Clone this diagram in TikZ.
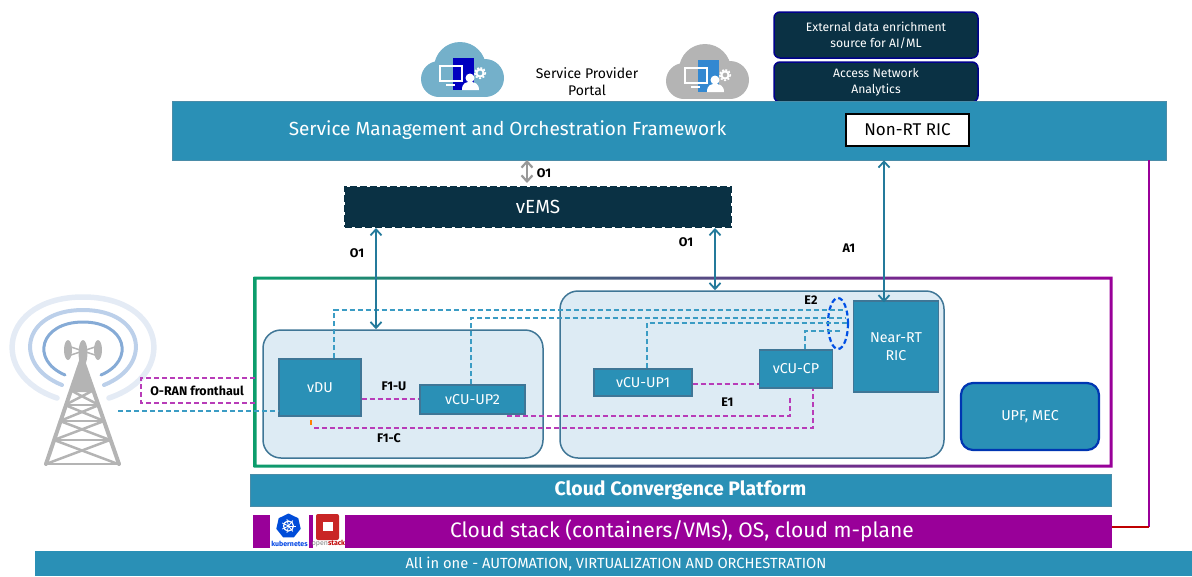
\documentclass[tikz,border=0pt]{standalone}
\usepackage{fontspec}
\setmainfont{Fira Sans}
\usetikzlibrary{calc}
\usetikzlibrary{positioning}
\usetikzlibrary{arrows.meta}
\usetikzlibrary{shapes.geometric}
\definecolor{bandblue}{HTML}{2A90B6}
\definecolor{edgeblue}{HTML}{4A8CA8}
\definecolor{darknavy}{HTML}{0A3144}
\definecolor{clusterfill}{HTML}{DDEBF4}
\definecolor{clusteredge}{HTML}{3F7696}
\definecolor{stackpurple}{HTML}{990099}
\definecolor{dashpurple}{HTML}{B83CB8}
\definecolor{dashblue}{HTML}{3B9CC4}
\definecolor{ringgreen}{HTML}{0C9D6C}
\definecolor{towergray}{HTML}{B4B4B4}
\definecolor{arcinner}{HTML}{86ABD6}
\definecolor{arcmiddle}{HTML}{BCD0EA}
\definecolor{arcouter}{HTML}{E4EBF5}
\tikzstyle{band} = [draw=edgeblue, fill=bandblue, text=white, align=center, inner sep=0]
\tikzstyle{darkbox} = [draw=blue!55!black, line width=1.5pt, fill=darknavy, rounded corners=6pt, text=white, align=center, font=\fontsize{12.2}{16}\selectfont, minimum width=204pt, inner sep=0]
\tikzstyle{vnfbox} = [draw=clusteredge, line width=1.2pt, fill=bandblue, text=white, align=center, font=\fontsize{14.3}{18}\selectfont, inner sep=0]
\tikzstyle{cluster} = [draw=clusteredge, line width=1.5pt, fill=clusterfill, rounded corners=18pt, inner sep=0]
\tikzstyle{iflabel} = [font=\fontsize{12.5}{14}\selectfont\bfseries, text=black, inner sep=0]
\tikzstyle{plane} = [dash pattern=on 5pt off 3pt, line width=1.5pt]
\tikzstyle{uline} = [plane, draw=dashpurple]
\tikzstyle{cline} = [plane, draw=dashblue]
\tikzstyle{ifarrow} = [draw=bandblue!85!black, line width=1.8pt, {Straight Barb[length=6pt,width=11pt]}-{Straight Barb[length=6pt,width=11pt]}]
\newcommand{\portalicon}[3]{%
  \begin{scope}[shift={#1}]
    \fill[#2] (18,-18) circle (18) (64,-19) circle (19) (39,-29) circle (26);
    \fill[#2] (18,-20) rectangle (64,0);
    \fill[#3] (32,-39) rectangle (53,-7);
    \draw[white, line width=1.2pt] (19,-31) rectangle (41,-16);
    \draw[white, line width=1.2pt] (25,-12) -- (34,-12);
    \fill[white] (49,-19) circle (4.5);
    \fill[white] (41,-7) .. controls (41,-14) and (45,-15) .. (49,-15) .. controls (53,-15) and (58,-14) .. (58,-7) -- cycle;
    \draw[white, line width=2pt] (59,-24) circle (3.6);
    \draw[white, line width=1.5pt, dash pattern=on 2pt off 1.6pt] (59,-24) circle (5.4);
  \end{scope}}

\begin{document}
\begin{tikzpicture}[x=1pt, y=-1pt]
    \useasboundingbox (0,0) rectangle (1192,576);
    % tower
    \draw[arcouter, line width=5.5pt, line cap=round] (57,398) .. controls (-12,375) and (0,297) .. (83,297) .. controls (166,297) and (178,375) .. (109,398);
    \draw[arcmiddle, line width=4pt, line cap=round] (62,385) .. controls (12,365) and (22,310) .. (83,310) .. controls (144,310) and (154,365) .. (104,385);
    \draw[arcinner, line width=3pt, line cap=round] (65,375) .. controls (30,360) and (40,322) .. (83,322) .. controls (126,322) and (136,360) .. (101,375);
    \fill[towergray] (82,358) -- (71,392) -- (93,392) -- cycle;
    \draw[towergray, line width=4pt, line join=round, line cap=round] (46,464) -- (82,358) -- (119,464);
    \foreach \ya/\xa/\yb/\xb in {390/12/405/17, 405/17/421/22, 421/22/440/28, 440/28/464/36} {
        \draw[towergray, line width=2.5pt] (82-\xa,\ya) -- (82+\xb,\yb);
        \draw[towergray, line width=2.5pt] (82+\xa,\ya) -- (82-\xb,\yb);
        \draw[towergray, line width=2.5pt] (82-\xb,\yb) -- (82+\xb,\yb);
    }
    \fill[towergray] (68,350) ellipse (4 and 10) (98,350) ellipse (4 and 10) (83,353) ellipse (4.5 and 13);
    \draw[towergray, line width=1.5pt] (68,346) -- (98,356) (98,346) -- (68,356);

    % portal
    \portalicon{(421,97)}{blue!30!cyan!45!gray!75}{blue!75!black}
    \portalicon{(666,99)}{towergray}{cyan!60!blue!85}
    \node[align=center, font=\fontsize{14}{17}\selectfont, inner sep=0] (portal_text) at (587,82) {Service Provider\\Portal};

    % orchestration
    \node[darkbox, minimum height=46pt] (enrichment) at (876,35) {External data enrichment\\source for AI/ML};
    \node[darkbox, minimum height=40pt] (analytics) at (876,82) {Access Network\\Analytics};
    \node[band, minimum width=994pt, minimum height=59pt] (smo) at (669,130.5) {};
    \node[text=white, font=\fontsize{19}{22}\selectfont, inner sep=0] (smo_text) at (507.5,130) {Service Management and Orchestration Framework};
    \node[draw=black, line width=1.2pt, fill=white, minimum width=123pt, minimum height=32pt, font=\fontsize{17}{20}\selectfont, inner sep=0] (non_rt) at (907.5,130) {Non-RT RIC};
    \node[draw=darknavy, dash pattern=on 7pt off 3pt, line width=2pt, fill=darknavy, text=white, minimum width=386pt, minimum height=40pt, font=\fontsize{19}{22}\selectfont, inner sep=0] (vems) at (538,207) {vEMS};

    % ring, clusters
    \shade[left color=ringgreen, middle color=ringgreen!50!stackpurple!80!cyan, right color=stackpurple, even odd rule] (253.5,276.5) rectangle (1112.5,467.5) (256.5,279.5) rectangle (1109.5,464.5);
    \node[cluster, minimum width=280pt, minimum height=128pt] (du_cluster) at (403,394) {};
    \node[cluster, minimum width=384pt, minimum height=167pt] (cu_cluster) at (752,374.5) {};

    \node[vnfbox, minimum width=82pt, minimum height=57pt] (vdu) at (320,387.5) {vDU};
    \node[vnfbox, minimum width=105pt, minimum height=29pt] (up2) at (472.5,399.5) {vCU-UP2};
    \node[vnfbox, minimum width=98pt, minimum height=27pt] (up1) at (643,382.5) {vCU-UP1};
    \node[vnfbox, minimum width=73pt, minimum height=38pt] (cp) at (796,369) {vCU-CP};
    \node[vnfbox, minimum width=85pt, minimum height=91pt] (near_rt) at (896,346.5) {Near-RT\\RIC};
    \node[vnfbox, draw=blue!70!cyan!70!black, line width=2.2pt, rounded corners=12pt, minimum width=138pt, minimum height=67pt] (upf) at (1030,416.5) {UPF, MEC};

    % platform
    \node[band, minimum width=861pt, minimum height=32pt, font=\fontsize{19.5}{22}\selectfont\bfseries] (platform) at (680.5,490) {Cloud Convergence Platform};
    \node[fill=stackpurple, text=white, minimum width=859pt, minimum height=33pt, font=\fontsize{21}{25}\selectfont, inner sep=0] (stack) at (682,531) {Cloud stack (containers/VMs), OS, cloud m-plane};
    \node[fill=bandblue, text=white, minimum width=1157pt, minimum height=25pt, font=\fontsize{14.7}{17}\selectfont, inner sep=0] (allinone) at (613.5,563.5) {\hspace{5pt}All in one - AUTOMATION, VIRTUALIZATION AND ORCHESTRATION};

    % logos
    \node[fill=white, minimum width=39pt, minimum height=34pt, inner sep=0] (kube_bg) at (289.5,531) {};
    \node[fill=white, minimum width=32pt, minimum height=34pt, inner sep=0] (open_bg) at (328.5,531) {};
    \node[regular polygon, regular polygon sides=7, fill=blue!65!cyan!85!black, minimum size=25pt, inner sep=0] (kube_logo) at (288.5,526) {};
    \draw[white, line width=1.2pt] (kube_logo.center) circle (5);
    \foreach \a in {0,51.4,...,309} {
        \draw[white, line width=.8pt] (kube_logo.center) -- ++(\a:7);
    }
    \node[fill=red!75!black!85, minimum width=23pt, minimum height=26pt, rounded corners=2pt, inner sep=0] (open_logo) at (327.5,527) {};
    \node[fill=white, minimum width=10pt, minimum height=9pt, inner sep=0] (open_core) at (328,526.5) {};
    \node[text=blue!70!cyan!90!black, font=\fontsize{7}{8}\selectfont\bfseries, inner sep=0] (kube_text) at (289.5,544) {kubernetes};
    \node[font=\fontsize{7}{8}\selectfont, inner sep=0] (open_text) at (328.5,544) {\textcolor{gray}{open}\textcolor{red!75!black}{\textbf{stack}}};

    % E2 group
    \node[draw=blue!65!cyan!90!black, dash pattern=on 5pt off 3pt, line width=2.2pt, ellipse, minimum width=20pt, minimum height=51pt, inner sep=0] (e2_ring) at (838,323.5) {};
    \coordinate (e2_du) at (845,310);
    \coordinate (e2_up2) at (845,318);
    \coordinate (e2_up1) at (847,323);
    \coordinate (e2_cp) at (841,331);
    \draw[cline] ($(vdu.north)+(14,0)$) |- (e2_du);
    \draw[cline] ($(up2.north)+(-1.5,0)$) |- (e2_up2);
    \draw[cline] ($(up1.north)+(4,0)$) |- (e2_up1);
    \draw[cline] ($(cp.north)+(9,0)$) |- (e2_cp);
    \coordinate (radio) at (118,411);
    \draw[cline] (radio) -- (vdu.west |- radio);

    % F1, E1
    \draw[uline] (vdu.east |- 0,399) -- (up2.west |- 0,399);
    \draw[uline] (up1.east |- 0,384) -- (cp.west |- 0,384);
    \coordinate (f1u_start) at (507,416);
    \coordinate (f1c_start) at (314,428);
    \draw[uline] (f1u_start) -| ($(cp.south)+(-6,7)$);
    \draw[uline] (f1c_start) -| ($(cp.south)+(17,0)$);
    \draw[orange, line width=1.5pt] (311,420) -- (311,425);

    % fronthaul
    \coordinate (fh_top) at (255,378);
    \coordinate (fh_bottom) at (255,403);
    \draw[uline] (fh_top) -- (141,378) -- (141,403) -- (fh_bottom);
    \node[iflabel] (fh_text) at (197,391) {O-RAN fronthaul};

    % interfaces
    \draw[ifarrow, draw=gray!80, line width=2.2pt] (527,160) -- (527,183);
    \node[iflabel] (o1_top) at (544,173) {O1};
    \draw[ifarrow] ($(vems.south)+(-162,0)$) -- ($(du_cluster.north)+(-27,0)$);
    \node[iflabel] (o1_du) at (357,253) {O1};
    \draw[ifarrow] ($(vems.south)+(177,0)$) -- ($(cu_cluster.north)+(-37,0)$);
    \node[iflabel] (o1_cu) at (686,242) {O1};
    \draw[ifarrow] ($(smo.south)+(215,0)$) -- ($(near_rt.north)+(-12,2)$);
    \node[iflabel] (a1) at (849,248) {A1};
    \node[iflabel] (f1u) at (394,386) {F1-U};
    \node[iflabel] (f1c) at (389,438) {F1-C};
    \node[iflabel] (e1) at (727.5,402) {E1};
    \node[iflabel] (e2) at (811,300) {E2};

    % cloud m-plane
    \coordinate (mplane) at (1148.7,526.7);
    \draw[stackpurple, line width=2pt] (mplane) -- (mplane |- smo.south);
    \draw[red!75!black, line width=2pt] (stack.east |- mplane) -- (mplane);
\end{tikzpicture}
\end{document}
